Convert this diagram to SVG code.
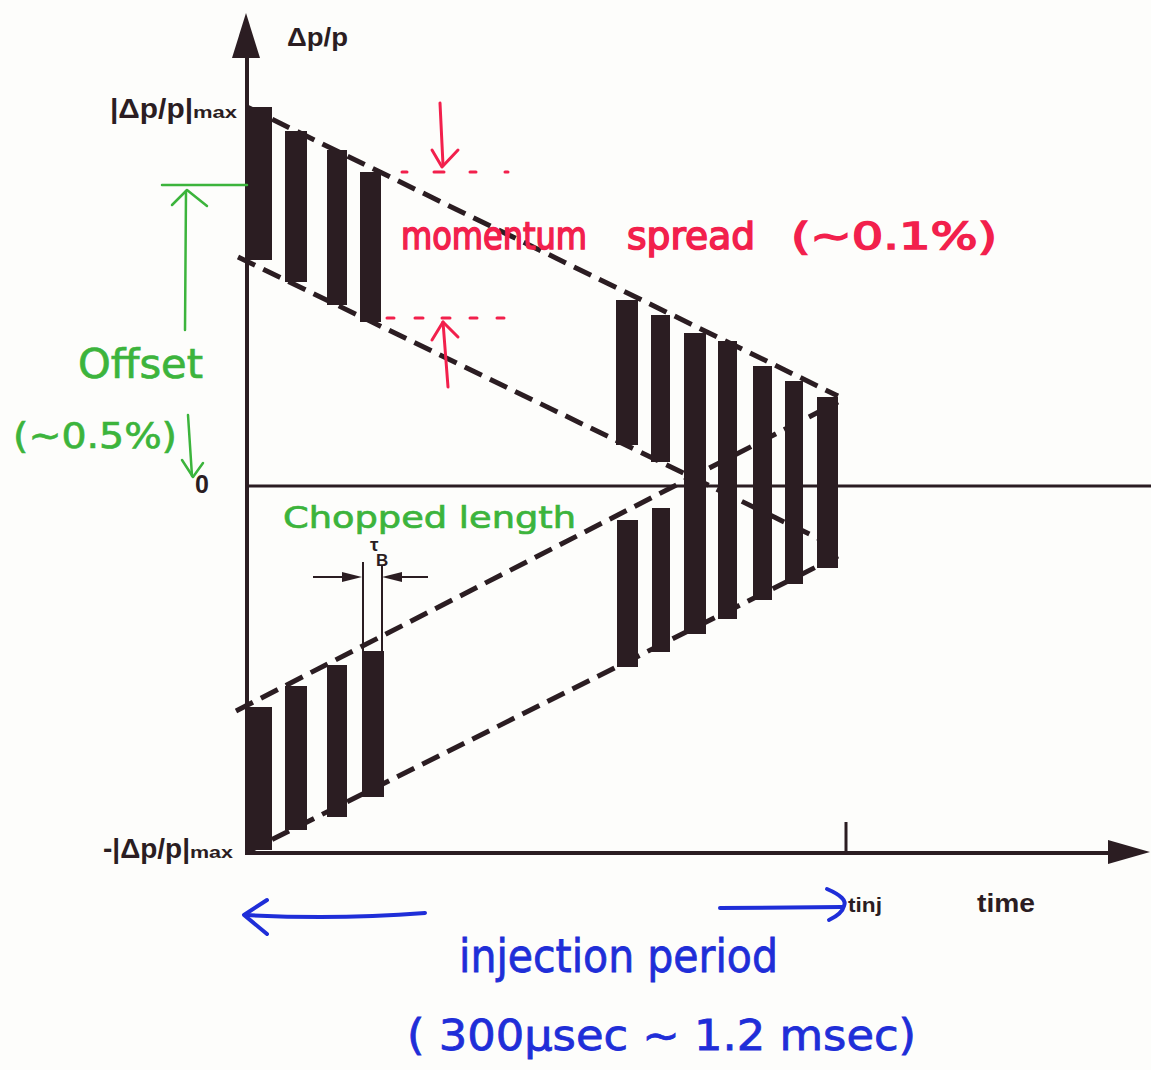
<svg xmlns="http://www.w3.org/2000/svg" width="1151" height="1070" viewBox="0 0 1151 1070">
<style>
.ink{fill:#2b1d22}
.dash{fill:none;stroke:#2b1d22;stroke-width:5;stroke-dasharray:19 9}
.lbl{font-family:"Liberation Sans",Arial,sans-serif;font-weight:bold;fill:#2b1d22}
.hand{font-family:"DejaVu Sans","Liberation Sans",sans-serif}
.red{fill:#f2204c;stroke:#f2204c;stroke-width:1.6}
.green{fill:#3cb43c;stroke:#3cb43c;stroke-width:0.7}
.blue{fill:#1f2ed8;stroke:#1f2ed8;stroke-width:0.8}
.rs{fill:none;stroke:#f2204c;stroke-width:3;stroke-linecap:round;stroke-linejoin:round}
.gs{fill:none;stroke:#3cb43c;stroke-width:2.5;stroke-linecap:round;stroke-linejoin:round}
.bs{fill:none;stroke:#1f2ed8;stroke-width:4;stroke-linecap:round;stroke-linejoin:round}
.thin{stroke:#2b1d22;stroke-width:2;fill:none}
</style>
<rect width="1151" height="1070" fill="#fdfdfb"/>
<g id="axes">
  <line x1="247" y1="50" x2="247" y2="854" stroke="#2b1d22" stroke-width="4"/>
  <polygon points="246,13 232,58 260,58" class="ink"/>
  <line x1="245" y1="853" x2="1112" y2="853" stroke="#2b1d22" stroke-width="4"/>
  <polygon points="1150,852 1108,840 1108,864" class="ink"/>
  <line x1="247" y1="486" x2="1151" y2="486" stroke="#2b1d22" stroke-width="3"/>
  <line x1="846" y1="822" x2="846" y2="853" stroke="#2b1d22" stroke-width="3"/>
</g>
<g id="envelopes">
  <line x1="247" y1="107" x2="838" y2="396" class="dash"/>
  <line x1="238" y1="257" x2="838" y2="548" class="dash"/>
  <line x1="247" y1="852" x2="838" y2="556" class="dash"/>
  <line x1="236" y1="711" x2="838" y2="402" class="dash"/>
</g>
<g id="bunches-upper-left">
  <rect x="247" y="107" width="25" height="153" class="ink"/>
  <rect x="285" y="131" width="22" height="151" class="ink"/>
  <rect x="327" y="150" width="20" height="155" class="ink"/>
  <rect x="360" y="172" width="21" height="150" class="ink"/>
</g>
<g id="bunches-lower-left">
  <rect x="247" y="707" width="25" height="143" class="ink"/>
  <rect x="285" y="686" width="22" height="144" class="ink"/>
  <rect x="327" y="665" width="20" height="152" class="ink"/>
  <rect x="362" y="651" width="22" height="146" class="ink"/>
</g>
<g id="bunches-end">
  <rect x="616" y="300" width="22" height="145" class="ink"/>
  <rect x="651" y="315" width="19" height="147" class="ink"/>
  <rect x="617" y="520" width="21" height="147" class="ink"/>
  <rect x="652" y="508" width="18" height="144" class="ink"/>
  <rect x="684" y="333" width="22" height="301" class="ink"/>
  <rect x="718" y="341" width="19" height="278" class="ink"/>
  <rect x="753" y="366" width="19" height="234" class="ink"/>
  <rect x="785" y="381" width="18" height="203" class="ink"/>
  <rect x="817" y="397" width="21" height="171" class="ink"/>
</g>
<g id="axis-labels">
  <text x="287" y="46" class="lbl" font-size="25" textLength="61" lengthAdjust="spacingAndGlyphs">Δp/p</text>
  <text x="110" y="118" class="lbl" font-size="28" textLength="83" lengthAdjust="spacingAndGlyphs">|Δp/p|</text>
  <text x="193" y="118" class="lbl" font-size="17" textLength="44" lengthAdjust="spacingAndGlyphs">max</text>
  <text x="103" y="858" class="lbl" font-size="28" textLength="87" lengthAdjust="spacingAndGlyphs">-|Δp/p|</text>
  <text x="190" y="858" class="lbl" font-size="17" textLength="43" lengthAdjust="spacingAndGlyphs">max</text>
  <text x="195" y="493" class="lbl" font-size="25">0</text>
  <text x="848" y="912" class="lbl" font-size="21" textLength="34" lengthAdjust="spacingAndGlyphs">tinj</text>
  <text x="977" y="912" class="lbl" font-size="25" textLength="58" lengthAdjust="spacingAndGlyphs">time</text>
</g>
<g id="chopped-length-marker">
  <line x1="363" y1="562" x2="363" y2="651" class="thin"/>
  <line x1="382" y1="565" x2="382" y2="651" class="thin"/>
  <line x1="313" y1="577" x2="350" y2="577" class="thin"/>
  <polygon points="362,577 342,572 342,582" class="ink"/>
  <line x1="395" y1="577" x2="428" y2="577" class="thin"/>
  <polygon points="382,577 402,572 402,582" class="ink"/>
  <text x="370" y="551" class="lbl" font-size="19">τ<tspan x="376" y="566" font-size="17">B</tspan></text>
</g>
<g id="momentum-spread">
  <path d="M440,103 L443,165" class="rs"/>
  <path d="M432,150 L442,167 L458,150" class="rs"/>
  <path d="M402,172 h5 M434,172 h10 M470,172 h6 M505,172 h3" class="rs"/>
  <path d="M448,387 L443,322" class="rs"/>
  <path d="M432,340 L443,322 L458,337" class="rs"/>
  <path d="M387,318 h7 M415,318 h8 M442,318 h8 M470,318 h7 M497,318 h7" class="rs"/>
  <text y="249" class="hand red" font-size="38"><tspan x="401" textLength="186" lengthAdjust="spacingAndGlyphs">momentum</tspan> <tspan x="627" textLength="128" lengthAdjust="spacingAndGlyphs">spread</tspan> <tspan x="791" textLength="206" lengthAdjust="spacingAndGlyphs">(∼0.1%)</tspan></text>
</g>
<g id="offset">
  <line x1="162" y1="185" x2="247" y2="185" class="gs"/>
  <path d="M185,330 L186,191" class="gs"/>
  <path d="M172,205 L187,190 L207,206" class="gs"/>
  <path d="M188,415 L192,476" class="gs"/>
  <path d="M182,460 L193,477 L203,463" class="gs"/>
  <text x="78" y="378" class="hand green" font-size="40" textLength="125" lengthAdjust="spacingAndGlyphs">Offset</text>
  <text x="13" y="448" class="hand green" font-size="36" textLength="164" lengthAdjust="spacingAndGlyphs">(∼0.5%)</text>
</g>
<g id="chopped-length-label">
  <text x="283" y="528" class="hand green" font-size="31" textLength="293" lengthAdjust="spacingAndGlyphs">Chopped length</text>
</g>
<g id="connectors">
  <path d="M425,913 Q335,920 246,915" class="bs"/>
  <path d="M267,900 L244,915 L267,934" class="bs"/>
  <path d="M720,908 L842,907" class="bs"/>
  <path d="M827,889 Q848,898 844,906 Q842,914 829,920" class="bs"/>
</g>
<g id="injection-period">
  <text x="459" y="972" class="hand blue" font-size="46" textLength="319" lengthAdjust="spacingAndGlyphs">injection period</text>
  <text x="407" y="1050" class="hand blue" font-size="42" textLength="509" lengthAdjust="spacingAndGlyphs">( 300μsec ∼ 1.2 msec)</text>
</g>
</svg>
